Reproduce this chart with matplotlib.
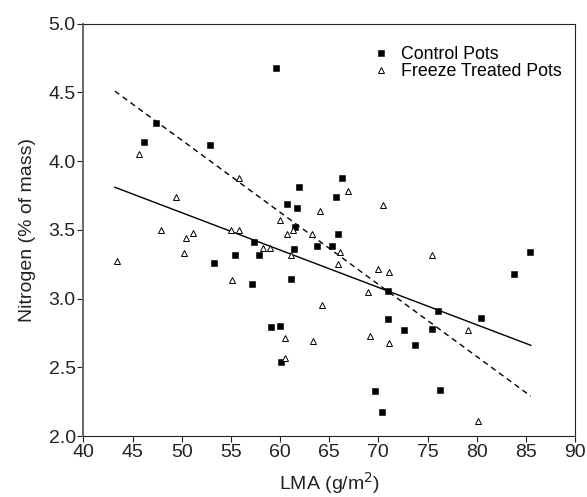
import matplotlib.pyplot as plt
import numpy as np

plt.rcParams['font.family'] = ['Liberation Sans', 'DejaVu Sans']

# Control pots (squares)
control_lma = [46.2, 47.4, 52.9, 53.25, 55.4, 57.1, 57.4, 57.9, 59.1, 59.6,
               59.95, 60.1, 60.7, 61.1, 61.4, 61.5, 61.7, 61.9, 63.8, 65.3,
               65.7, 65.85, 66.35, 69.7, 70.4, 71.0, 71.0, 72.65, 73.7, 75.5,
               76.1, 76.3, 80.45, 83.8, 85.45]
control_n = [4.14, 4.28, 4.12, 3.26, 3.32, 3.105, 3.41, 3.315, 2.79, 4.68,
             2.80, 2.54, 3.69, 3.14, 3.36, 3.52, 3.66, 3.81, 3.38, 3.38,
             3.74, 3.47, 3.88, 2.325, 2.175, 3.055, 2.855, 2.77, 2.665, 2.78,
             2.91, 2.335, 2.86, 3.18, 3.34]

# Freeze treated pots (open triangles)
freeze_lma = [43.4, 45.7, 47.9, 49.4, 50.2, 50.4, 51.2, 55.0, 55.1, 55.8,
              55.8, 58.3, 59.0, 60.0, 60.5, 60.5, 60.7, 61.1, 61.3, 63.3,
              63.4, 64.05, 64.25, 65.9, 66.1, 66.9, 68.96, 69.2, 70.0, 70.45,
              71.05, 71.1, 75.5, 79.15, 80.1]
freeze_n = [3.27, 4.055, 3.50, 3.74, 3.33, 3.44, 3.48, 3.50, 3.135, 3.50,
            3.88, 3.37, 3.37, 3.57, 2.71, 2.57, 3.47, 3.32, 3.50, 3.47,
            2.69, 3.635, 2.95, 3.25, 3.34, 3.78, 3.05, 2.73, 3.215, 3.68,
            2.68, 3.19, 3.315, 2.77, 2.11]

# regression lines (end points)
line_x = [43.2, 85.5]
solid_y = [3.81, 2.66]
dashed_y = [4.51, 2.29]

fig = plt.figure(figsize=(5.87, 4.97), dpi=100)
ax = fig.add_axes([0.142, 0.1227, 0.8376, 0.8296])

ax.plot(control_lma, control_n, 's', color='black', markersize=4.8,
        markeredgewidth=0.4, label='Control Pots', zorder=3)
ax.plot(freeze_lma, freeze_n, '^', markerfacecolor='white', markeredgecolor='black',
        markersize=4.6, markeredgewidth=0.7, label='Freeze Treated Pots', zorder=3)
ax.plot(line_x, solid_y, '-', color='black', linewidth=1.0, zorder=2)
ax.plot(line_x, dashed_y, color='black', linewidth=1.0, dashes=(4, 3), zorder=2)

ax.set_xlim(40, 90)
ax.set_ylim(2.0, 5.0)
ax.set_xticks(np.arange(40, 91, 5))
ax.set_yticks(np.arange(2.0, 5.01, 0.5))
ax.set_yticklabels([f'{v:.1f}' for v in np.arange(2.0, 5.01, 0.5)])

ax.tick_params(direction='out', length=4, width=0.8, labelsize=14, colors='#222222')
ax.tick_params(axis='y', pad=1.5)
ax.tick_params(axis='x', pad=2)
for side in ['top', 'bottom', 'right']:
    ax.spines[side].set_color('#222222')
ax.spines['left'].set_color('#666666')
ax.spines['left'].set_linewidth(1.4)

ax.set_xlabel('LMA (g/m$^2$)', fontsize=14, color='#222222', labelpad=6)
ax.set_ylabel('Nitrogen (% of mass)', fontsize=14, color='#222222', labelpad=9)

ax.legend(loc='upper left', bbox_to_anchor=(0.56, 0.985), frameon=False,
          fontsize=12.8, handlelength=0.7, handletextpad=0.8, labelspacing=0.02,
          markerscale=0.8)

fig.savefig('out.png', dpi=100)
